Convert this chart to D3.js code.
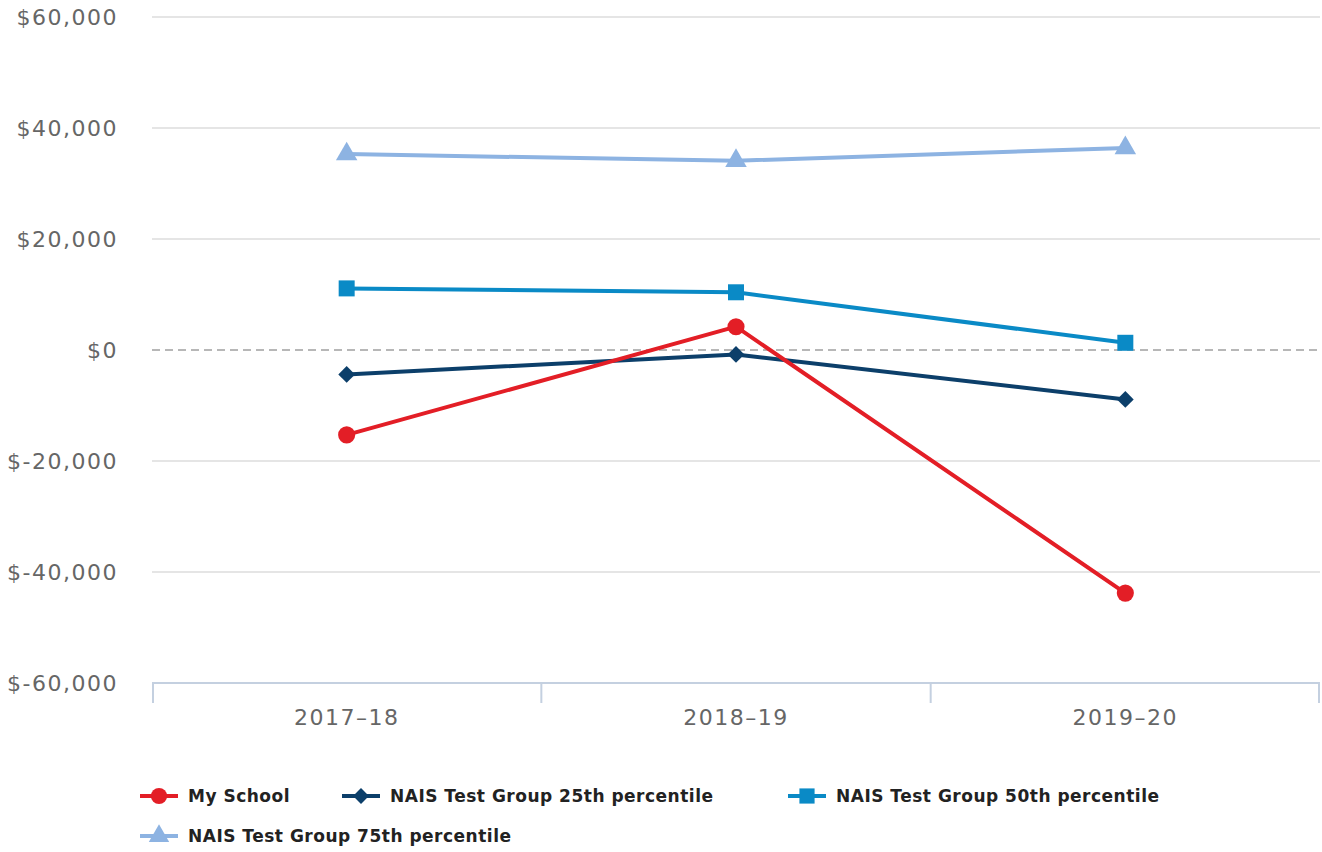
<!DOCTYPE html>
<html>
<head>
<meta charset="utf-8">
<script src="https://cdn.jsdelivr.net/npm/d3@7"></script>
<style>
  body { margin: 0; background: #fff; }
  svg { display: block; }
</style>
</head>
<body>
<svg width="1322" height="852"></svg>
<script>
const years = ['2017–18', '2018–19', '2019–20'];
const mySchool = [-15300, 4200, -43800];
const p25 = [-4400, -800, -8900];
const p50 = [11100, 10400, 1300];
const p75 = [35300, 34100, 36400];
const yTicks = [-60000, -40000, -20000, 0, 20000, 40000, 60000];

// square rotated 45 degrees -> wide diamond like the reference
const wideDiamond = {
  draw(context, size) {
    const r = Math.sqrt(size / 2);
    context.moveTo(0, -r);
    context.lineTo(r, 0);
    context.lineTo(0, r);
    context.lineTo(-r, 0);
    context.closePath();
  }
};

const seriesList = [
  { name: 'My School', values: mySchool, color: '#e31e26', symbol: d3.symbolCircle, size: 230 },
  { name: 'NAIS Test Group 25th percentile', values: p25, color: '#0c3f6a', symbol: wideDiamond, size: 140 },
  { name: 'NAIS Test Group 50th percentile', values: p50, color: '#0a8ac6', symbol: d3.symbolSquare, size: 256 },
  { name: 'NAIS Test Group 75th percentile', values: p75, color: '#8db3e2', symbol: d3.symbolTriangle, size: 200 }
];

const svg = d3.select('svg');
const margin = { top: 17, right: 2, bottom: 169, left: 152 };
const width = +svg.attr('width');
const height = +svg.attr('height');
const innerWidth = width - margin.left - margin.right;
const innerHeight = height - margin.top - margin.bottom;

const xScale = d3.scaleBand().domain(years).range([0, innerWidth]);
const yScale = d3.scaleLinear().domain([-60000, 60000]).range([innerHeight, 0]);
const fmt = v => '$' + d3.format(',')(v).replace('−', '-');

const g = svg.append('g').attr('transform', `translate(${margin.left},${margin.top})`);

// gridlines
g.selectAll('.grid').data(yTicks.filter(t => t !== 0 && t !== -60000))
  .enter().append('line')
  .attr('x1', 0).attr('x2', innerWidth)
  .attr('y1', d => yScale(d)).attr('y2', d => yScale(d))
  .attr('stroke', '#dcdcdc').attr('stroke-width', 1.5);

// zero line dashed
g.append('line')
  .attr('x1', 0).attr('x2', innerWidth)
  .attr('y1', yScale(0)).attr('y2', yScale(0))
  .attr('stroke', '#a0a0a0').attr('stroke-width', 1.5)
  .attr('stroke-dasharray', '8,5');

// y labels
g.selectAll('.ylab').data(yTicks).enter().append('text')
  .attr('x', -34).attr('y', d => yScale(d)).attr('dy', '0.35em')
  .attr('text-anchor', 'end')
  .attr('fill', '#666')
  .style('font-family', '"DejaVu Sans", sans-serif')
  .style('font-size', '22px')
  .style('letter-spacing', '1.5px')
  .text(fmt);

// x axis
const xAxisG = g.append('g').attr('transform', `translate(0,${innerHeight})`);
xAxisG.append('line').attr('x1', 0).attr('x2', innerWidth)
  .attr('stroke', '#c4d0e0').attr('stroke-width', 2);
const bounds = [0, ...years.map(y => xScale(y) + xScale.bandwidth())];
xAxisG.selectAll('.tick').data(bounds).enter().append('line')
  .attr('x1', d => Math.min(Math.max(d, 1), innerWidth - 1))
  .attr('x2', d => Math.min(Math.max(d, 1), innerWidth - 1))
  .attr('y1', 0).attr('y2', 20)
  .attr('stroke', '#c4d0e0').attr('stroke-width', 2);
xAxisG.selectAll('.xlab').data(years).enter().append('text')
  .attr('x', d => xScale(d) + xScale.bandwidth() / 2)
  .attr('y', 42)
  .attr('text-anchor', 'middle')
  .attr('fill', '#666')
  .style('font-family', '"DejaVu Sans", sans-serif')
  .style('font-size', '22px')
  .style('letter-spacing', '1.5px')
  .text(d => d);

const cx = d => xScale(d) + xScale.bandwidth() / 2;
const line = d3.line().x((v, i) => cx(years[i])).y(v => yScale(v));

const drawOrder = [3, 2, 1, 0];
drawOrder.forEach(k => {
  const s = seriesList[k];
  g.append('path').datum(s.values)
    .attr('d', line)
    .attr('fill', 'none')
    .attr('stroke', s.color)
    .attr('stroke-width', 4)
    .attr('stroke-linejoin', 'round');
  g.selectAll(null).data(s.values).enter().append('path')
    .attr('transform', (v, i) => `translate(${cx(years[i])},${yScale(v)})`)
    .attr('d', d3.symbol().type(s.symbol).size(s.size))
    .attr('fill', s.color);
});

// legend
const legendPos = [
  { x: 140, y: 796 },
  { x: 342, y: 796 },
  { x: 788, y: 796 },
  { x: 140, y: 836 }
];
const legend = svg.append('g');
seriesList.forEach((s, i) => {
  const p = legendPos[i];
  const lg = legend.append('g').attr('transform', `translate(${p.x},${p.y})`);
  lg.append('line').attr('x1', 0).attr('x2', 38).attr('y1', 0).attr('y2', 0)
    .attr('stroke', s.color).attr('stroke-width', 4);
  lg.append('path').attr('transform', 'translate(19,0)')
    .attr('d', d3.symbol().type(s.symbol).size(s.size * 0.9))
    .attr('fill', s.color);
  lg.append('text').attr('x', 48).attr('y', 0).attr('dy', '0.35em')
    .attr('fill', '#222')
    .style('font-family', '"DejaVu Sans", sans-serif')
    .style('font-weight', 'bold')
    .style('font-size', '17px')
    .style('letter-spacing', '0.5px')
    .text(s.name);
});
</script>
</body>
</html>
